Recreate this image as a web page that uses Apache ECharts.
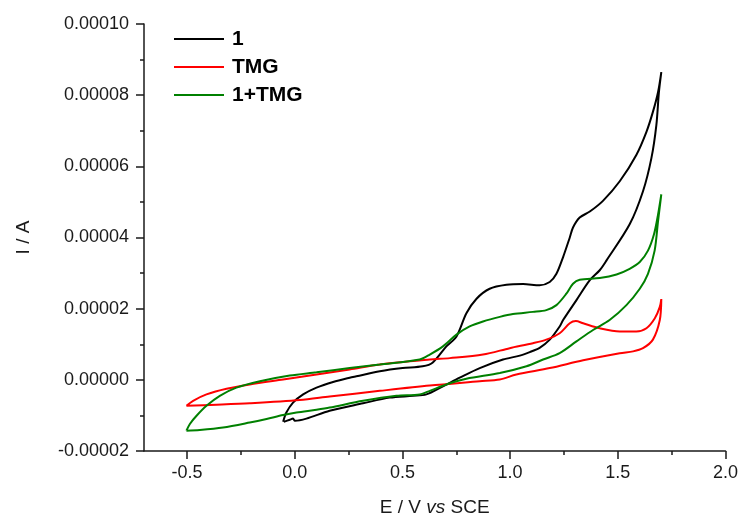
<!DOCTYPE html>
<html>
<head>
<meta charset="utf-8">
<script src="https://cdn.jsdelivr.net/npm/echarts@6/dist/echarts.min.js"></script>
<style>html,body{margin:0;padding:0;background:#fff}#c{width:741px;height:522px}</style>
</head>
<body>
<div id="c"></div>
<script>
// Potential E (V vs SCE) and current I (units of 1e-5 A)
const blackE = [-0.054,-0.039,-0.008,0.039,0.101,0.178,0.255,0.286,0.395,0.501,0.594,0.641,0.704,0.751,0.797,0.844,0.905,0.983,1.060,1.137,1.184,1.215,1.246,1.277,1.292,1.323,1.370,1.431,1.509,1.586,1.633,1.663,1.687,1.702,
  1.691,1.679,1.656,1.617,1.555,1.447,1.416,1.370,1.308,1.246,1.230,1.184,1.137,1.091,1.045,0.967,0.859,0.766,0.688,0.611,0.549,0.441,0.317,0.162,0.054,0.001,-0.008,-0.023,-0.051];
const blackI = [-1.18,-0.92,-0.64,-0.41,-0.22,-0.06,0.06,0.10,0.24,0.33,0.38,0.49,0.94,1.22,1.87,2.28,2.56,2.67,2.69,2.66,2.75,2.98,3.45,4.00,4.28,4.56,4.73,5.03,5.58,6.32,6.97,7.53,8.09,8.65,
  8.09,7.16,6.23,5.30,4.37,3.35,3.08,2.80,2.24,1.68,1.50,1.13,0.90,0.78,0.68,0.57,0.33,0.06,-0.18,-0.41,-0.45,-0.50,-0.66,-0.87,-1.09,-1.15,-1.09,-1.12,-1.18];

const redE = [-0.503,-0.472,-0.410,-0.317,-0.209,-0.054,0.101,0.255,0.395,0.627,0.720,0.874,0.998,1.106,1.168,1.230,1.277,1.305,1.339,1.416,1.509,1.586,1.633,1.672,1.695,1.702,
  1.695,1.663,1.617,1.571,1.509,1.339,1.184,1.029,0.952,0.859,0.627,0.395,0.162,0.023,-0.209,-0.363,-0.503];
const redI = [-0.73,-0.59,-0.41,-0.25,-0.13,0.01,0.15,0.29,0.43,0.57,0.61,0.71,0.89,1.03,1.13,1.31,1.59,1.65,1.59,1.45,1.36,1.36,1.45,1.73,2.05,2.27,
  1.68,1.13,0.89,0.80,0.75,0.55,0.33,0.15,0.01,-0.04,-0.16,-0.31,-0.47,-0.57,-0.66,-0.70,-0.73];

const greenE = [-0.503,-0.487,-0.456,-0.410,-0.348,-0.271,-0.162,-0.023,0.101,0.255,0.395,0.580,0.627,0.688,0.751,0.812,0.874,0.952,1.013,1.106,1.168,1.215,1.261,1.292,1.323,1.416,1.494,1.555,1.602,1.640,1.668,1.687,1.702,
  1.687,1.671,1.640,1.602,1.540,1.462,1.385,1.308,1.230,1.153,1.076,0.952,0.797,0.704,0.627,0.580,0.472,0.317,0.162,0.101,0.008,-0.054,-0.131,-0.209,-0.333,-0.441,-0.503];
const greenI = [-1.43,-1.24,-1.01,-0.73,-0.45,-0.22,-0.04,0.12,0.21,0.33,0.43,0.57,0.71,0.94,1.27,1.50,1.64,1.77,1.85,1.91,1.96,2.10,2.42,2.70,2.81,2.86,2.96,3.12,3.31,3.63,4.09,4.65,5.21,
  4.47,3.63,2.98,2.56,2.10,1.68,1.40,1.08,0.75,0.57,0.38,0.19,0.03,-0.13,-0.31,-0.41,-0.45,-0.59,-0.78,-0.84,-0.92,-0.99,-1.10,-1.20,-1.34,-1.41,-1.43];

const seriesNames = ['1', 'TMG', '1+TMG'];
const majorTicksX = [-0.5, 0, 0.5, 1.0, 1.5, 2.0];
const minorTicksX = [-0.25, 0.25, 0.75, 1.25, 1.75];

const FONT = 'Arial, "Liberation Sans", sans-serif';
function pairs(E, I) { return E.map((e, k) => [e, I[k] * 1e-5]); }

const chart = echarts.init(document.getElementById('c'), null, {renderer: 'canvas'});
const axisCol = '#1a1a1a';
const mk = (name, E, I, color) => ({
  name, type: 'line', data: pairs(E, I), showSymbol: false, symbol: 'none',
  smooth: 0.3, lineStyle: {color, width: 2}, itemStyle: {color}, animation: false
});
chart.setOption({
  animation: false,
  grid: {left: 144, right: 15, top: 24, bottom: 67},
  legend: {
    orient: 'vertical', left: 174, top: 25, padding: 0, itemWidth: 50, itemHeight: 14, itemGap: 0,
    textStyle: {fontFamily: FONT, fontSize: 21, fontWeight: 'bold', color: '#000', lineHeight: 28, padding: [0, 0, 0, 3]},
    data: seriesNames.map(n => ({name: n, icon: 'path://M0,0 L50,0 L50,2 L0,2 Z'}))
  },
  xAxis: [{
    type: 'value', min: -0.7, max: 2.0,
    name: '{a|E / V }{b|vs}{a| SCE}', nameLocation: 'middle', nameGap: 47,
    nameTextStyle: {rich: {a: {fontFamily: FONT, fontSize: 19, color: '#1a1a1a'}, b: {fontFamily: FONT, fontSize: 19, fontStyle: 'italic', color: '#1a1a1a'}}},
    axisLine: {show: true, onZero: false, lineStyle: {color: axisCol, width: 1.5}},
    axisTick: {show: true, inside: false, length: 8, customValues: majorTicksX, lineStyle: {color: axisCol, width: 1.5}},
    axisLabel: {customValues: majorTicksX, margin: 13, fontFamily: FONT, fontSize: 18, color: '#1a1a1a', formatter: v => v.toFixed(1)},
    splitLine: {show: false}
  }, {
    type: 'value', min: -0.7, max: 2.0, position: 'bottom', offset: 0,
    axisLine: {show: false, onZero: false},
    axisTick: {show: true, length: 4, customValues: minorTicksX, lineStyle: {color: axisCol, width: 1.5}},
    axisLabel: {show: false, customValues: minorTicksX},
    splitLine: {show: false}
  }],
  yAxis: {
    type: 'value', min: -0.00002, max: 0.0001, interval: 0.00002,
    name: 'I / A', nameLocation: 'middle', nameGap: 111, nameRotate: 90,
    nameTextStyle: {fontFamily: FONT, fontSize: 19, color: '#1a1a1a'},
    axisLine: {show: true, onZero: false, lineStyle: {color: axisCol, width: 1.5}},
    axisTick: {show: true, length: 8, lineStyle: {color: axisCol, width: 1.5}},
    minorTick: {show: true, splitNumber: 2, length: 4, lineStyle: {color: axisCol, width: 1.5}},
    axisLabel: {margin: 15, fontFamily: FONT, fontSize: 18, color: '#1a1a1a', formatter: v => (Math.abs(v) < 1e-12 ? 0 : v).toFixed(5)},
    splitLine: {show: false}
  },
  series: [
    mk(seriesNames[0], blackE, blackI, '#000000'),
    mk(seriesNames[1], redE, redI, '#ff0000'),
    mk(seriesNames[2], greenE, greenI, '#008000')
  ]
});
</script>
</body>
</html>
